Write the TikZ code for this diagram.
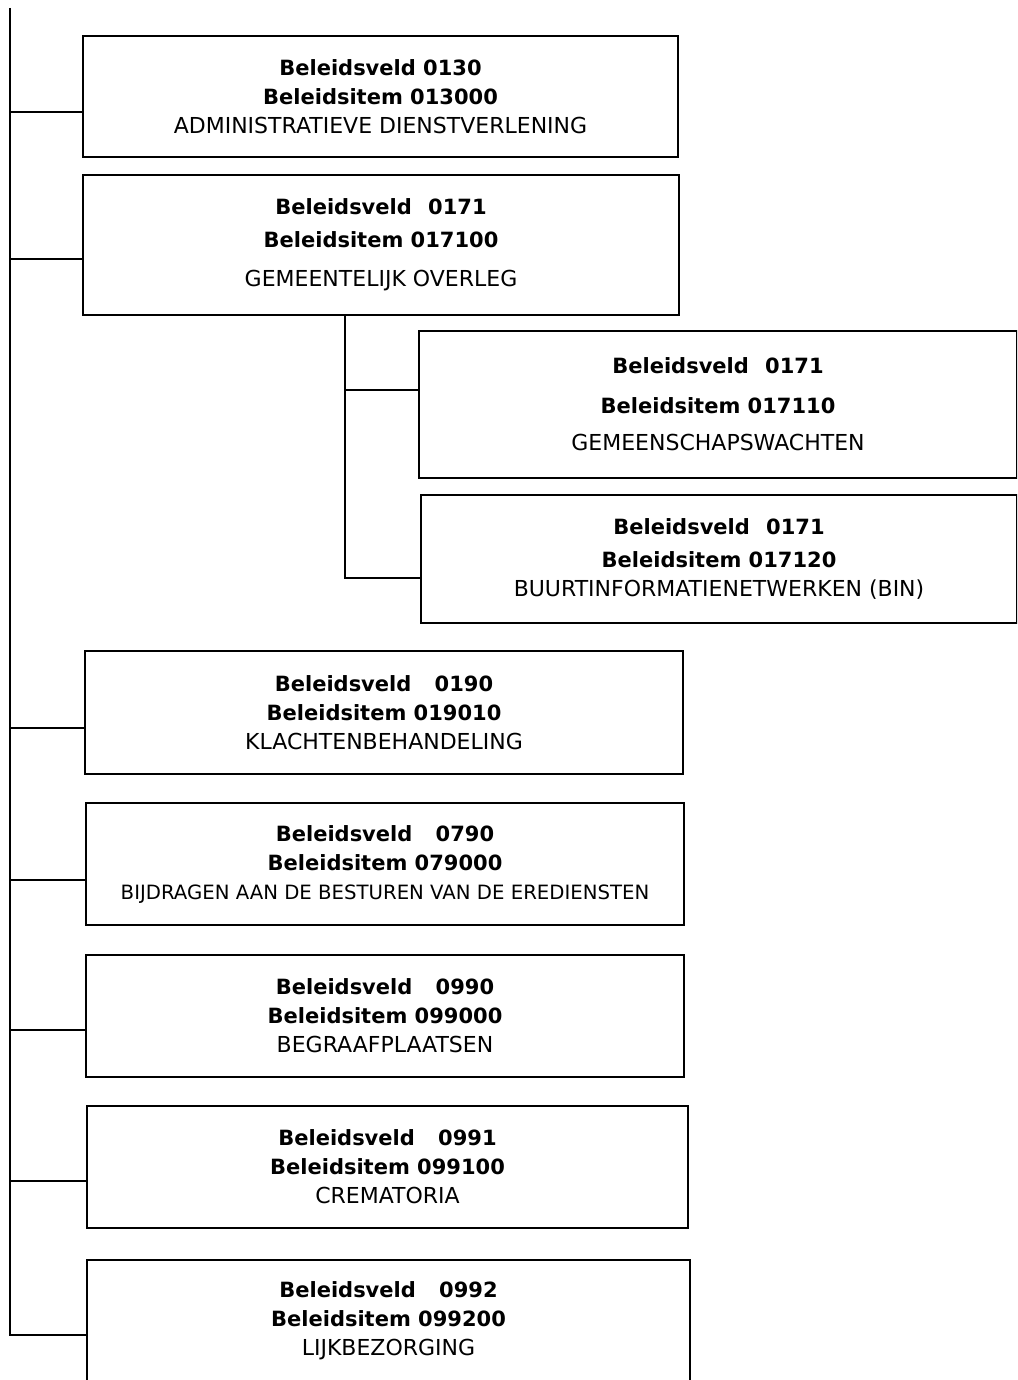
\documentclass[tikz,border=0pt]{standalone}
\usepackage{fontspec}
\setmainfont{DejaVu Sans}
\newcommand{\bline}[1]{{\fontsize{10.5}{14.5}\selectfont\bfseries #1}}

\begin{document}
\begin{tikzpicture}[x=0.5pt, y=-0.5pt,
        itembox/.style={draw=black, line width=1pt, inner sep=0pt, align=center, font=\fontsize{11}{14.5}\selectfont},
        link/.style={draw=black, line width=1pt}]

        \useasboundingbox (0,0) rectangle (1017,1380);
        \clip (0,0) rectangle (1017,1380);

        \node[itembox, minimum width=297.5pt, minimum height=60.5pt] (A) at (380.5,96.5) {\bline{Beleidsveld 0130}\\\bline{Beleidsitem 013000}\\ADMINISTRATIEVE DIENSTVERLENING};
        \node[itembox, minimum width=298pt, minimum height=70pt] (B) at (381,245) {\bline{Beleidsveld\hspace{4.5pt} 0171}\\[2pt]\bline{Beleidsitem 017100}\\[5pt]GEMEENTELIJK OVERLEG};
        \node[itembox, minimum width=299pt, minimum height=73.5pt] (C) at (718,404.5) {\bline{Beleidsveld\hspace{4.5pt} 0171}\\[5.5pt]\bline{Beleidsitem 017110}\\[4pt]GEMEENSCHAPSWACHTEN};
        \node[itembox, minimum width=298pt, minimum height=64pt] (D) at (719,559) {\bline{Beleidsveld\hspace{4.5pt} 0171}\\[2pt]\bline{Beleidsitem 017120}\\BUURTINFORMATIENETWERKEN (BIN)};
        \node[itembox, minimum width=299pt, minimum height=61.5pt] (E) at (384,712.5) {\bline{Beleidsveld\hspace{8pt} 0190}\\\bline{Beleidsitem 019010}\\KLACHTENBEHANDELING};
        \node[itembox, minimum width=299pt, minimum height=61pt] (F) at (385,864) {\bline{Beleidsveld\hspace{8pt} 0790}\\\bline{Beleidsitem 079000}\\{\fontsize{9.85}{14.5}\selectfont BIJDRAGEN AAN DE BESTUREN VAN DE EREDIENSTEN}};
        \node[itembox, minimum width=299pt, minimum height=61pt] (G) at (385,1016) {\bline{Beleidsveld\hspace{8pt} 0990}\\\bline{Beleidsitem 099000}\\BEGRAAFPLAATSEN};
        \node[itembox, minimum width=300.5pt, minimum height=61pt] (H) at (387.5,1167) {\bline{Beleidsveld\hspace{8pt} 0991}\\\bline{Beleidsitem 099100}\\CREMATORIA};
        \node[itembox, minimum width=301.5pt, minimum height=61pt] (I) at (388.5,1321) {\bline{Beleidsveld\hspace{8pt} 0992}\\\bline{Beleidsitem 099200}\\LIJKBEZORGING};

        % main trunk and the branch under 0171
        \coordinate (top) at (10,8);
        \coordinate (subtop) at (345,315);
        \coordinate (a) at ([yshift=-7.75pt]A.west);
        \coordinate (b) at ([yshift=-7pt]B.west);
        \coordinate (c) at ([yshift=7.25pt]C.west);
        \coordinate (d) at ([yshift=-9.5pt]D.west);
        \coordinate (e) at ([yshift=-7.75pt]E.west);
        \coordinate (f) at ([yshift=-8pt]F.west);
        \coordinate (g) at ([yshift=-7pt]G.west);
        \coordinate (h) at ([yshift=-7pt]H.west);
        \coordinate (i) at ([yshift=-7pt]I.west);

    \begin{scope}[every path/.style={link}]

        \draw (top) |- (i);
        \draw (a) -- (top |- a);
        \draw (b) -- (top |- b);
        \draw (e) -- (top |- e);
        \draw (f) -- (top |- f);
        \draw (g) -- (top |- g);
        \draw (h) -- (top |- h);
        \draw (subtop) |- (d);
        \draw (c) -- (subtop |- c);

    \end{scope}

    \end{tikzpicture}
\end{document}
